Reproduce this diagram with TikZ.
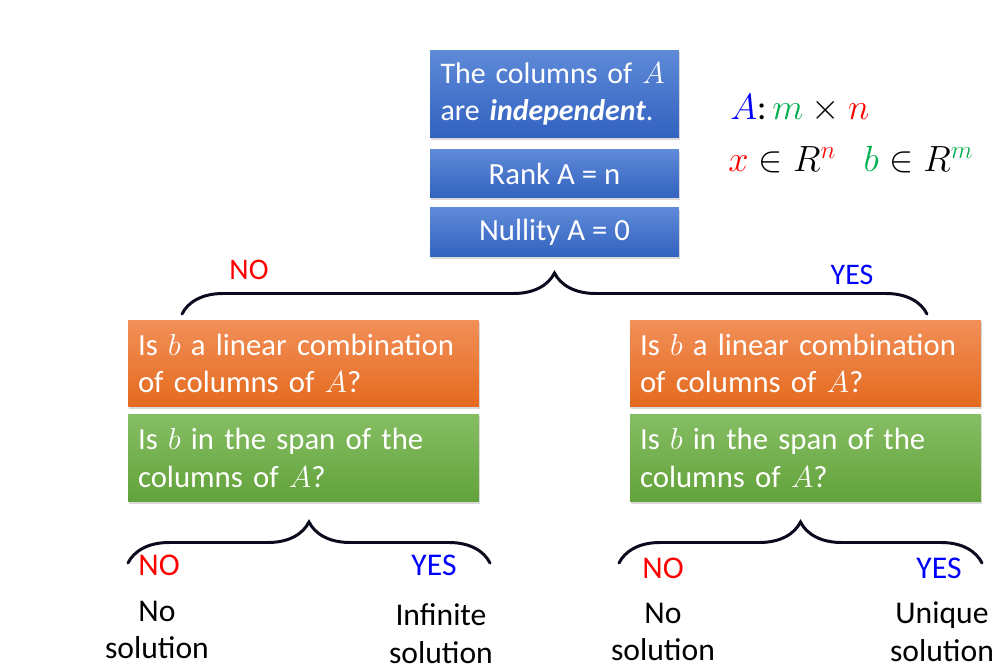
\documentclass[tikz,border=0pt]{standalone}
\usepackage{fontspec}
\setmainfont{Carlito}
\usetikzlibrary{shadows,decorations.pathreplacing}

\definecolor{blueTop}{RGB}{95,138,216}
\definecolor{blueBot}{RGB}{50,98,192}
\definecolor{orangeTop}{RGB}{242,143,88}
\definecolor{orangeBot}{RGB}{228,106,30}
\definecolor{greenTop}{RGB}{134,190,100}
\definecolor{greenBot}{RGB}{98,162,58}
\definecolor{noRed}{RGB}{255,0,0}
\definecolor{yesBlue}{RGB}{0,0,255}
\definecolor{mGreen}{RGB}{0,176,80}
\definecolor{braceInk}{RGB}{10,10,30}

\begin{document}
\begin{tikzpicture}[
    x=0.02cm, y=-0.02cm,
    every node/.style={inner sep=0pt},
    shade/.style={drop shadow={opacity=0.3, shadow xshift=0.6pt, shadow yshift=-1.4pt}},
    topbox/.style={shade, top color=blueTop, bottom color=blueBot, text=white,
        minimum width=4.98cm, font=\fontsize{17.5}{21.5}\selectfont},
    qbox/.style={shade, top color=orangeTop, bottom color=orangeBot, text=white,
        minimum width=7.02cm, minimum height=1.74cm, text width=6.62cm, align=left,
        font=\fontsize{17.5}{21.5}\selectfont},
    sbox/.style={qbox, top color=greenTop, bottom color=greenBot, minimum height=1.76cm},
    bracket/.style={draw=braceInk, line width=1.7pt, line cap=round,
        decorate, decoration={brace, amplitude=0.82cm}},
    lbl/.style={font=\fontsize{17}{21}\selectfont},
    result/.style={align=center, font=\fontsize{18}{21.5}\selectfont}
]
    \useasboundingbox (0,0) rectangle (997,671);

    % Condition on A
    \node[topbox, minimum height=1.76cm, text width=4.56cm, align=left, font=\fontsize{17}{21.5}\selectfont] (indep) at (554.5,94)
        {The columns of $A$\\are \textbf{\textit{independent}}.};
    \node[topbox, minimum height=0.96cm] (rank) at (554.5,174) {Rank A = n};
    \node[topbox, minimum height=0.98cm] (nullity) at (554.5,232.5) {Nullity A = 0};

    % Sizes
    \node[anchor=base west, font=\fontsize{20}{24}\selectfont] (size) at (730,120)
        {$\textcolor{yesBlue}{A}$:\,$\textcolor{mGreen}{m}\times\textcolor{noRed}{n}$};
    \node[anchor=base west, font=\fontsize{21.5}{24}\selectfont] (spaces) at (728,172)
        {$\textcolor{noRed}{x}\in R^{\textcolor{noRed}{n}}$\enskip\ $\textcolor{mGreen}{b}\in R^{\textcolor{mGreen}{m}}$};

    % Top split
    \coordinate (topL) at (182,314);
    \coordinate (topR) at (927,314);
    \draw[bracket] (topL) -- (topR);
    \node[lbl, text=noRed] (no) at (249,270) {NO};
    \node[lbl, text=yesBlue] (yes) at (852,275) {YES};

    % Questions
    \node[qbox] (lq) at (303.5,363.5) {Is $b$ a linear combination\\of columns of $A$?};
    \node[sbox] (ls) at (303.5,458) {Is $b$ in the span of the\\columns of $A$?};
    \node[qbox] (rq) at (805.5,363.5) {Is $b$ a linear combination\\of columns of $A$?};
    \node[sbox] (rs) at (805.5,458) {Is $b$ in the span of the\\columns of $A$?};

    % Lower splits
    \coordinate (llL) at (128,563);
    \coordinate (llR) at (490,563);
    \coordinate (rrL) at (619,563);
    \coordinate (rrR) at (982,563);
    \draw[bracket] (llL) -- (llR);
    \draw[bracket] (rrL) -- (rrR);

    \node[lbl, text=noRed, font=\fontsize{18}{21}\selectfont] (lno) at (159,565) {NO};
    \node[lbl, text=yesBlue, font=\fontsize{18}{21}\selectfont] (lyes) at (434,565) {YES};
    \node[lbl, text=noRed, font=\fontsize{18}{21}\selectfont] (rno) at (663,568) {NO};
    \node[lbl, text=yesBlue, font=\fontsize{18}{21}\selectfont] (ryes) at (939,568) {YES};

    % Outcomes
    \node[result] (lnone) at (157,630) {No\\solution};
    \node[result] (linf) at (441,634) {Infinite\\solution};
    \node[result] (rnone) at (663,632) {No\\solution};
    \node[result] (runiq) at (942,632) {Unique\\solution};
\end{tikzpicture}
\end{document}
